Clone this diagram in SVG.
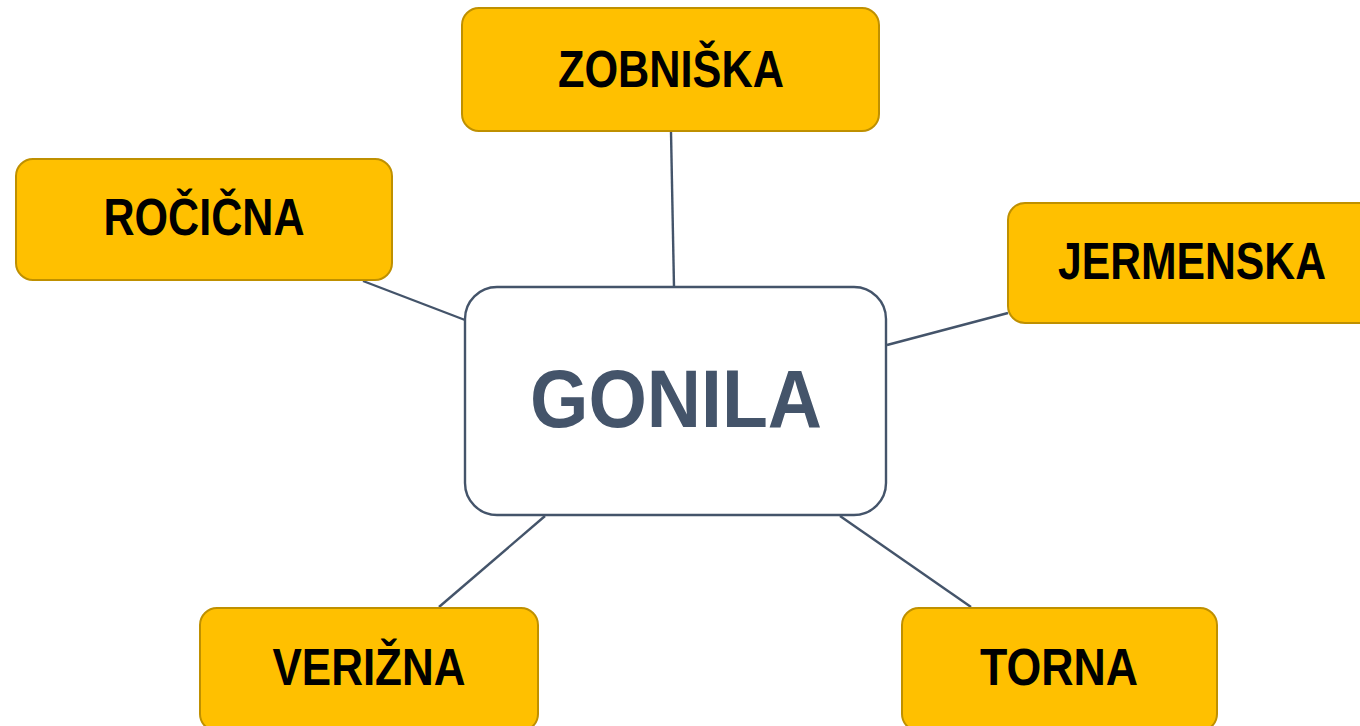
<svg xmlns="http://www.w3.org/2000/svg" width="1360" height="726" viewBox="0 0 1360 726">
<style>
.leaf{fill:#FFC000;stroke:#BF9000;stroke-width:2}
.lt{font-family:"Liberation Sans",Arial,sans-serif;font-weight:bold;font-size:51px;fill:#000;text-anchor:middle}
.conn line{stroke:#44546A;stroke-width:2.4}
.center{fill:#fff;stroke:#44546A;stroke-width:2.4}
.ct{font-family:"Liberation Sans",Arial,sans-serif;font-weight:bold;font-size:81px;fill:#44546A;text-anchor:middle}
</style>
<rect width="1360" height="726" fill="#fff"/>
<g id="connectors" class="conn">
<line x1="671" y1="132" x2="674" y2="287"/>
<line x1="363" y1="281" x2="465" y2="320"/>
<line x1="1008" y1="313" x2="887" y2="345"/>
<line x1="545" y1="516" x2="439" y2="607"/>
<line x1="840" y1="516" x2="971" y2="607"/>
</g>
<g id="gonila">
<rect class="center" x="465" y="287" width="421" height="228" rx="32"/>
<text class="ct" x="676" y="427" textLength="292" lengthAdjust="spacingAndGlyphs">GONILA</text>
</g>
<g id="zobniska">
<rect class="leaf" x="462" y="8" width="417" height="123" rx="17"/>
<text class="lt" x="671" y="87" textLength="226" lengthAdjust="spacingAndGlyphs">ZOBNIŠKA</text>
</g>
<g id="rocicna">
<rect class="leaf" x="16" y="159" width="376" height="121" rx="17"/>
<text class="lt" x="204" y="235" textLength="201" lengthAdjust="spacingAndGlyphs">ROČIČNA</text>
</g>
<g id="jermenska">
<rect class="leaf" x="1008" y="203" width="370" height="120" rx="17"/>
<text class="lt" x="1192" y="279" textLength="268" lengthAdjust="spacingAndGlyphs">JERMENSKA</text>
</g>
<g id="verizna">
<rect class="leaf" x="200" y="608" width="338" height="123" rx="17"/>
<text class="lt" x="369" y="685" textLength="193" lengthAdjust="spacingAndGlyphs">VERIŽNA</text>
</g>
<g id="torna">
<rect class="leaf" x="902" y="608" width="315" height="123" rx="17"/>
<text class="lt" x="1059" y="685" textLength="158" lengthAdjust="spacingAndGlyphs">TORNA</text>
</g>
</svg>
